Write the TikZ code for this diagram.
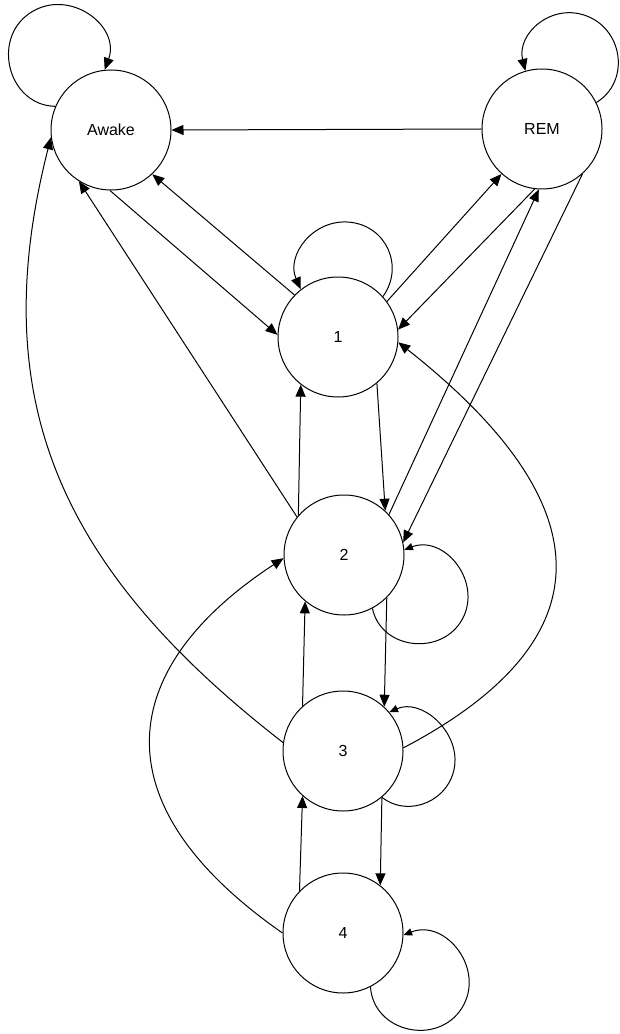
\documentclass[tikz,border=0pt]{standalone}
\usepackage{fontspec}
\setmainfont{Liberation Sans}
\usetikzlibrary{arrows.meta}
\begin{document}
\begin{tikzpicture}[x=0.75pt,y=-0.75pt, line width=0.75pt,
  state/.style={draw, circle, minimum size=90pt, inner sep=0pt, font=\fontsize{12}{14}\selectfont},
  arr/.style={-{Triangle[length=9pt,width=7.5pt]}},
  sarr/.style={-{Triangle[length=6.5pt,width=5.5pt]}}]
\useasboundingbox (0,0) rectangle (620,1034);
\node[state] (awake) at (111,130) {Awake};
\node[state] (rem) at (542,129) {REM};
\node[state] (n1) at (338,337) {1};
\node[state] (n2) at (344,555) {2};
\node[state] (n3) at (343,751) {3};
\node[state] (n4) at (343,933) {4};
% self loops
\draw[arr] (awake.157) .. controls +(-47,-1) and +(-39,26) .. (30,13)
  .. controls +(39,-26) and +(16,-44) .. (awake.96);
\draw[arr] (rem.26) .. controls +(33,-20) and +(36,15) .. (588,16.5)
  .. controls +(-36,-15) and +(-9,-37) .. (rem.106);
\draw[arr] (n1.42) .. controls +(21.5,-30) and +(36.7,3.7) .. (349.8,222.2)
  .. controls +(-36.7,-3.7) and +(-15,-34) .. (n1.128);
\draw[sarr] (n2.298) .. controls +(9,42) and +(-20,37.5) .. (462.5,618.8)
  .. controls +(20,-37.5) and +(40,-15) .. (n2.5);
\draw[sarr] (n3.310) .. controls +(27.7,21.3) and +(-4.2,34.7) .. (454.7,765.4)
  .. controls +(4.2,-34.7) and +(31.9,-14.1) .. (n3.40);
\draw[sarr] (n4.297) .. controls +(3,45.4) and +(-24.3,38.5) .. (461.8,1008.1)
  .. controls +(24.3,-38.5) and +(42.3,-16.7) .. (n4.358);
% straight connectors
\draw[arr] (rem.west) -- (awake.east);
\draw[arr] (awake.269) -- (n1.178);
\draw[arr] (n1.136) -- (awake.313);
\draw[arr] (n2.141) -- (awake.238);
\draw[arr] (n2.139) -- (n1.232);
\draw[arr] (n1.310) -- (n2.47);
\draw[arr] (n1.36) -- (rem.228);
\draw[arr] (rem.263) -- (n1.7);
\draw[arr] (n2.42) -- (rem.267);
\draw[arr] (rem.312) -- (n2.12);
\draw[arr] (n2.315) -- (n3.47);
\draw[arr] (n3.132) -- (n2.230);
\draw[arr] (n3.310) -- (n4.52);
\draw[arr] (n4.136) -- (n3.228);
% curved connectors
\draw[arr] (n3.172) .. controls +(-223,-173) and +(-67,263) .. (awake.187);
\draw[arr] (n3.3) .. controls +(198,-104) and +(213,168) .. (n1.355);
\draw[arr] (n4.180) .. controls +(-188,-131) and +(-165,108) .. (n2.183);
\end{tikzpicture}
\end{document}
